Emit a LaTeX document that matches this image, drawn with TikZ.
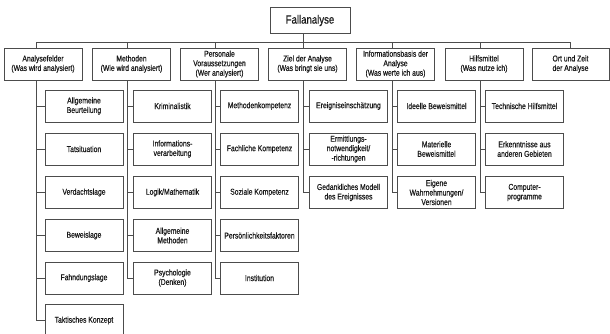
\documentclass[tikz,border=0pt]{standalone}
\usepackage{fontspec}
\setmainfont{Liberation Sans}[FakeStretch=0.8, FakeBold=0.5]

\tikzset{
  caixa/.style={rectangle, draw=black!70, line width=0.8pt, text=black!90,
    minimum width=78pt, minimum height=32pt, inner sep=1pt, align=center,
    font=\fontsize{8.5}{9.5}\selectfont},
  linha/.style={draw=black!70, line width=0.8pt}
}

\begin{document}
\begin{tikzpicture}[x=1pt, y=-1pt]
            \useasboundingbox (0,0) rectangle (610,334);
            %caixas
            \draw (310, 20.5) node[caixa, minimum width=80pt, minimum height=26pt, font=\fontsize{12}{14}\selectfont](r){Fallanalyse};
            \draw (43, 64) node[caixa](f0){Analysefelder\\(Was wird analysiert)}
            (131.5, 64) node[caixa](m0){Methoden\\(Wie wird analysiert)}
            (219.5, 64) node[caixa](p0){Personale\\Voraussetzungen\\(Wer analysiert)}
            (307.5, 64) node[caixa](z0){Ziel der Analyse\\(Was bringt sie uns)}
            (395.5, 64) node[caixa](i0){Informationsbasis der\\Analyse\\(Was werte ich aus)}
            (484, 64) node[caixa](h0){Hilfsmittel\\(Was nutze ich)}
            (570.5, 64) node[caixa, minimum width=77pt](o0){Ort und Zeit\\der Analyse};
            \draw (84, 106) node[caixa](f1){Allgemeine\\Beurteilung}
            (84, 149) node[caixa](f2){Tatsituation}
            (84, 192.5) node[caixa](f3){Verdachtslage}
            (84, 235.5) node[caixa](f4){Beweislage}
            (84, 278) node[caixa](f5){Fahndungslage}
            (84, 320.5) node[caixa](f6){Taktisches Konzept};
            \draw (172.5, 106) node[caixa](m1){Kriminalistik}
            (172.5, 149) node[caixa](m2){Informations-\\verarbeitung}
            (172.5, 192.5) node[caixa](m3){Logik/Mathematik}
            (172.5, 235.5) node[caixa](m4){Allgemeine\\Methoden}
            (172.5, 278) node[caixa](m5){Psychologie\\(Denken)};
            \draw (259.5, 106) node[caixa](p1){Methodenkompetenz}
            (259.5, 149) node[caixa](p2){Fachliche Kompetenz}
            (259.5, 192.5) node[caixa](p3){Soziale Kompetenz}
            (259.5, 235.5) node[caixa](p4){Persönlichkeitsfaktoren}
            (259.5, 278) node[caixa](p5){Institution};
            \draw (348.5, 106) node[caixa](z1){Ereigniseinschätzung}
            (348.5, 149) node[caixa](z2){Ermittlungs-\\notwendigkeit/\\-richtungen}
            (348.5, 192.5) node[caixa](z3){Gedankliches Modell\\des Ereignisses};
            \draw (436.5, 106) node[caixa](i1){Ideelle Beweismittel}
            (436.5, 149) node[caixa](i2){Materielle\\Beweismittel}
            (436.5, 192.5) node[caixa](i3){Eigene\\Wahrnehmungen/\\Versionen};
            \draw (524.5, 106) node[caixa](h1){Technische Hilfsmittel}
            (524.5, 149) node[caixa](h2){Erkenntnisse aus\\anderen Gebieten}
            (524.5, 192.5) node[caixa](h3){Computer-\\programme};

            %ligações
            \coordinate (bus) at (0, 42);
            \draw[linha] ([xshift=-4pt]z0.north) -- ([xshift=-4pt]z0.north |- r.south);
            \draw[linha] ([xshift=-7pt]f0.north) |- (o0.north |- bus) -- (o0.north);
            \draw[linha] ([xshift=-4.5pt]m0.north) -- ([xshift=-4.5pt]m0.north |- bus);
            \draw[linha] ([xshift=-4.5pt]p0.north) -- ([xshift=-4.5pt]p0.north |- bus);
            \draw[linha] ([xshift=-3.5pt]i0.north) -- ([xshift=-3.5pt]i0.north |- bus);
            \draw[linha] ([xshift=-4pt]h0.north) -- ([xshift=-4pt]h0.north |- bus);

            \draw[linha] ([xshift=-7pt]f0.south) |- (f1.west);
            \draw[linha] ([xshift=-7pt]f0.south) |- (f2.west);
            \draw[linha] ([xshift=-7pt]f0.south) |- (f3.west);
            \draw[linha] ([xshift=-7pt]f0.south) |- (f4.west);
            \draw[linha] ([xshift=-7pt]f0.south) |- (f5.west);
            \draw[linha] ([xshift=-7pt]f0.south) |- (f6.west);
            \draw[linha] ([xshift=-4.5pt]m0.south) |- (m1.west);
            \draw[linha] ([xshift=-4.5pt]m0.south) |- (m2.west);
            \draw[linha] ([xshift=-4.5pt]m0.south) |- (m3.west);
            \draw[linha] ([xshift=-4.5pt]m0.south) |- (m4.west);
            \draw[linha] ([xshift=-4.5pt]m0.south) |- (m5.west);
            \draw[linha] ([xshift=-4.5pt]p0.south) |- (p1.west);
            \draw[linha] ([xshift=-4.5pt]p0.south) |- (p2.west);
            \draw[linha] ([xshift=-4.5pt]p0.south) |- (p3.west);
            \draw[linha] ([xshift=-4.5pt]p0.south) |- (p4.west);
            \draw[linha] ([xshift=-4.5pt]p0.south) |- (p5.west);
            \draw[linha] ([xshift=-4pt]z0.south) |- (z1.west);
            \draw[linha] ([xshift=-4pt]z0.south) |- (z2.west);
            \draw[linha] ([xshift=-4pt]z0.south) |- (z3.west);
            \draw[linha] ([xshift=-3.5pt]i0.south) |- (i1.west);
            \draw[linha] ([xshift=-3.5pt]i0.south) |- (i2.west);
            \draw[linha] ([xshift=-3.5pt]i0.south) |- (i3.west);
            \draw[linha] ([xshift=-4pt]h0.south) |- (h1.west);
            \draw[linha] ([xshift=-4pt]h0.south) |- (h2.west);
            \draw[linha] ([xshift=-4pt]h0.south) |- (h3.west);
\end{tikzpicture}
\end{document}
